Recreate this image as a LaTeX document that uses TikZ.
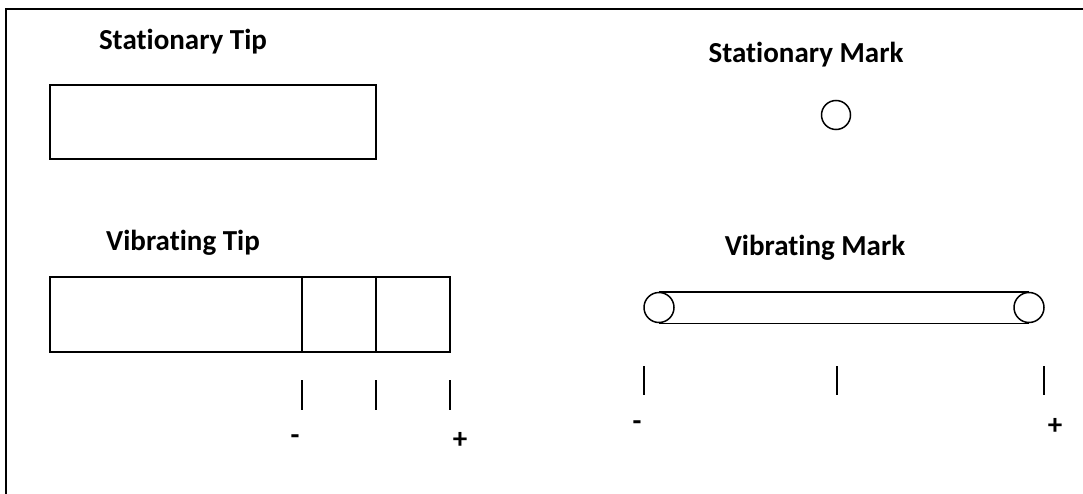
\documentclass[tikz,border=0pt]{standalone}
\usepackage{fontspec}
\setmainfont[Ligatures=NoCommon]{Carlito}
\begin{document}
\begin{tikzpicture}[x=1pt,y=-1pt,
  lbl/.style={font=\fontsize{29}{33}\selectfont\bfseries, inner sep=0pt},
  sgn/.style={font=\fontsize{29}{33}\selectfont\bfseries, inner sep=0pt},
  boxshape/.style={draw, line width=1.5pt, rectangle, inner sep=0pt},
  tick/.style={line width=2.5pt},
  ring/.style={draw, line width=1.5pt, circle, inner sep=0pt, minimum size=29pt}]
\useasboundingbox (0,0) rectangle (1083,494);
\fill[white] (0,0) rectangle (1083,494);
\coordinate (fbl) at (6,500);
\coordinate (ftl) at (6,9);
\coordinate (ftr) at (1090,9);
\draw[line width=2pt] (fbl) -- (ftl) -- (ftr);
% Stationary tip
\node[lbl] (sttl) at (183,42) {Stationary Tip};
\node[boxshape, minimum width=326pt, minimum height=74pt] (stbox) at (213,122) {};
% Vibrating tip
\node[lbl] (vbtl) at (183,243) {Vibrating Tip};
\node[boxshape, minimum width=252pt, minimum height=75pt] (vb1) at (176,314.5) {};
\node[boxshape, minimum width=74pt, minimum height=75pt] (vb2) at (339,314.5) {};
\node[boxshape, minimum width=74pt, minimum height=75pt] (vb3) at (413,314.5) {};
\coordinate (t1a) at (302,380); \coordinate (t1b) at (302,410);
\coordinate (t2a) at (376,380); \coordinate (t2b) at (376,410);
\coordinate (t3a) at (450,380); \coordinate (t3b) at (450,410);
\draw[tick] (t1a) -- (t1b);
\draw[tick] (t2a) -- (t2b);
\draw[tick] (t3a) -- (t3b);
\node[sgn] (vbm) at (295,440) {-};
\node[sgn] (vbp) at (460,440) {+};
% Stationary mark
\node[lbl] (smtl) at (806,55) {Stationary Mark};
\node[ring] (smc) at (836,115) {};
% Vibrating mark
\node[lbl] (vmtl) at (815,248) {Vibrating Mark};
\node[ring, minimum size=30pt] (vmc1) at (659,307.5) {};
\node[ring, minimum size=30pt] (vmc2) at (1029,307.5) {};
\draw[line width=1.5pt] (vmc1.north) -- (vmc2.north);
\draw[line width=1.5pt] (vmc1.south) -- (vmc2.south);
\coordinate (m1a) at (644,366); \coordinate (m1b) at (644,395);
\coordinate (m2a) at (837,366); \coordinate (m2b) at (837,395);
\coordinate (m3a) at (1044,366); \coordinate (m3b) at (1044,395);
\draw[tick] (m1a) -- (m1b);
\draw[tick] (m2a) -- (m2b);
\draw[tick] (m3a) -- (m3b);
\node[sgn] (vmm) at (637,426) {-};
\node[sgn] (vmp) at (1055,426) {+};
\end{tikzpicture}
\end{document}
